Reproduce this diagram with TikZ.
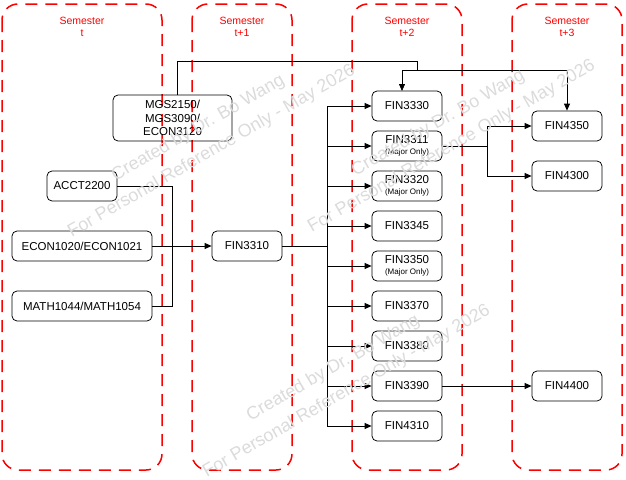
\documentclass[tikz,border=0pt]{standalone}
\usepackage{fontspec}
\setmainfont{Liberation Sans}
\usetikzlibrary{arrows.meta}

\tikzset{every picture/.style={line width=0.75pt}}
\tikzset{
  sem/.style={draw=red, line width=1.5pt, dash pattern={on 12pt off 8pt}, rounded corners=16pt},
  semlabel/.style={text=red, font=\fontsize{10.5}{12.5}\selectfont, align=center},
  course/.style={draw, rounded corners=5pt, minimum width=70pt, minimum height=30pt, inner sep=1pt, align=center, font=\fontsize{11.5}{13.5}\selectfont},
  wide/.style={course, minimum width=140pt},
  link/.style={-{Triangle[length=7pt,width=6pt]}},
  wmark/.style={text=black!14, font=\fontsize{18}{27}\selectfont, align=center, rotate=30}
}
\newcommand{\majonly}{\\[-3pt]{\fontsize{8}{9}\selectfont(Major Only)}}

\begin{document}
\begin{tikzpicture}[x=1pt,y=1pt,yscale=-1]
\useasboundingbox (0,0) rectangle (626,479);

% semester columns
\draw[sem] (2,4) rectangle (162,470);
\draw[sem] (192,4) rectangle (292,470);
\draw[sem] (352,4) rectangle (462,470);
\draw[sem] (512,4) rectangle (622,470);
\node[semlabel] (semA) at (82,27) {Semester\\t};
\node[semlabel] (semB) at (242,27) {Semester\\t+1};
\node[semlabel] (semC) at (407,27) {Semester\\t+2};
\node[semlabel] (semD) at (567,27) {Semester\\t+3};

% semester t
\node[course] (acct) at (82,186) {ACCT2200};
\node[wide] (econ) at (82,246) {ECON1020/ECON1021};
\node[wide] (math) at (82,306) {MATH1044/MATH1054};
\node[course, minimum width=119pt, minimum height=46pt] (mgs) at (172.5,118) {MGS2150/\\MGS3090/\\ECON3120};

% semester t+1
\node[course] (f3310) at (247,246) {FIN3310};

% semester t+2
\node[course] (f3330) at (407,106) {FIN3330};
\node[course] (f3311) at (407,146) {FIN3311\majonly};
\node[course] (f3320) at (407,186) {FIN3320\majonly};
\node[course] (f3345) at (407,226) {FIN3345};
\node[course] (f3350) at (407,266) {FIN3350\majonly};
\node[course] (f3370) at (407,306) {FIN3370};
\node[course] (f3380) at (407,346) {FIN3380};
\node[course] (f3390) at (407,386) {FIN3390};
\node[course] (f4310) at (407,426) {FIN4310};

% semester t+3
\node[course] (f4350) at (567,126) {FIN4350};
\node[course] (f4300) at (567,176) {FIN4300};
\node[course] (f4400) at (567,386) {FIN4400};

% prerequisites
\coordinate (join) at (172,246);
\coordinate (bus) at (327,246);
\coordinate (split) at (487,146);
\coordinate (mgsout) at (177,95);
\coordinate (top) at (417,61);
\coordinate (fork) at (417,70);
\coordinate (f3330in) at (402,91);
\draw (acct.east) -| (join);
\draw (math.east) -| (join);
\draw[link] (econ.east) -- (f3310.west);
\draw (f3310.east) -- (bus);
\foreach \c in {f3330,f3311,f3320,f3345,f3350,f3370,f3380,f3390,f4310}
  \draw[link] (bus) |- (\c.west);
\draw (f3311.east) -- (split);
\draw[link] (split) |- (f4350.west);
\draw[link] (split) |- (f4300.west);
\draw[link] (f3390.east) -- (f4400.west);
\draw (mgsout) |- (top) -- (fork);
\draw[link] (fork) -| (f3330in);
\draw[link] (fork) -| (f4350.north);

% watermark
\node[wmark] (wmA) at (205,140) {Created by Dr. Bo Wang\\For Personal Reference Only - May 2026};
\node[wmark] (wmB) at (445,135) {Created by Dr. Bo Wang\\For Personal Reference Only - May 2026};
\node[wmark] (wmC) at (340,380) {Created by Dr. Bo Wang\\For Personal Reference Only - May 2026};
\end{tikzpicture}
\end{document}
